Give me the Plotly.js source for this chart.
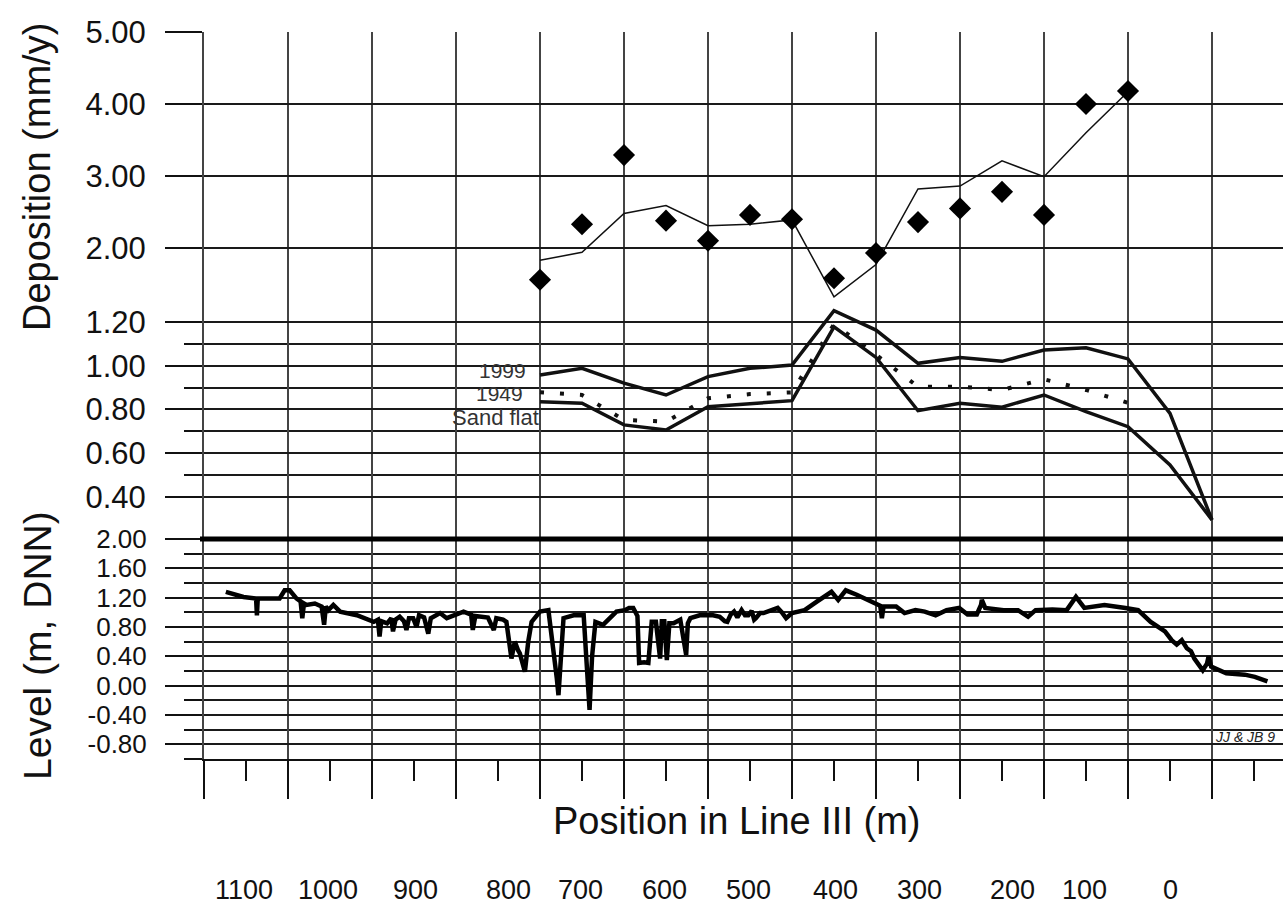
<!DOCTYPE html>
<html>
<head>
<meta charset="utf-8">
<script src="https://cdn.plot.ly/plotly-3.0.1.min.js"></script>
<style>html,body{margin:0;padding:0;background:#fff;}#chart{width:1283px;height:907px;}</style>
</head>
<body>
<div id="chart"></div>
<script>
// ---------- data ----------
const depPositions = [800,750,700,650,600,550,500,450,400,350,300,250,200,150,100];
const depMeasured  = [1.56,2.33,3.29,2.38,2.10,2.46,2.40,1.58,1.93,2.36,2.55,2.78,2.46,4.00,4.18];
const depModel     = [1.83,1.94,2.48,2.59,2.31,2.33,2.39,1.32,1.77,2.82,2.86,3.21,2.99,3.60,4.17];

const levelPositions = [800,750,700,650,600,550,500,450,400,350,300,250,200,150,100,50,0];
const level1999      = [0.957,0.988,0.92,0.866,0.95,0.988,1.003,1.252,1.163,1.011,1.038,1.02,1.072,1.082,1.031,0.782,0.294];
const levelSandFlat  = [0.835,0.828,0.729,0.706,0.812,0.826,0.84,1.178,1.038,0.794,0.828,0.81,0.866,0.79,0.721,0.546,0.294];
const positions1949  = [800,750,700,650,600,550,500,450,400,350,300,250,200,150,100];
const level1949      = [0.878,0.866,0.752,0.744,0.851,0.87,0.878,1.19,1.05,0.904,0.904,0.889,0.938,0.889,0.83];

const profilePos = [1174,1160,1153,1138,1137,1136,1120,1110,1104,1098,1090,1085,1083,1081,1078,1068,1060,1057,1055,1052,1046,1038,1018,998,993,991,989,982,977,975,972,967,962,959,956,951,947,944,938,933,930,927,919,911,903,891,882,880,877,871,862,855,852,844,840,834,830,826,824,818,814,810,800,790,785,780,778,775,772,760,748,745,741,738,734,725,716,709,699,694,689,684,682,676,671,669,667,662,657,655,652,649,646,641,633,626,624,621,610,594,586,580,577,573,569,565,560,556,552,548,545,543,538,534,526,517,512,507,500,485,470,453,445,436,423,406,395,393,391,385,376,366,353,342,329,316,301,291,280,275,274,270,258,248,231,219,210,190,173,162,152,140,128,103,88,73,56,48,45,42,36,30,25,21,11,6,4,1,-17,-39,-51,-66];
const profileLevel = [1.28,1.23,1.21,1.19,0.96,1.19,1.19,1.19,1.30,1.30,1.19,1.15,0.92,1.12,1.10,1.12,1.08,0.83,1.08,1.03,1.10,1.01,0.96,0.87,0.90,0.67,0.88,0.85,0.92,0.74,0.90,0.94,0.88,0.76,0.92,0.92,0.80,0.96,0.93,0.71,0.92,0.94,0.99,0.92,0.96,1.01,0.97,0.76,0.95,0.94,0.93,0.76,0.92,0.90,0.87,0.37,0.60,0.48,0.44,0.19,0.60,0.87,1.01,1.03,0.60,0.10,-0.13,0.50,0.92,0.96,0.96,0.40,-0.33,0.40,0.87,0.83,0.93,1.01,1.03,1.06,1.06,0.95,0.31,0.32,0.31,0.60,0.87,0.87,0.37,0.88,0.88,0.35,0.85,0.85,0.90,0.42,0.85,0.92,0.96,0.96,0.94,0.88,0.87,0.97,1.01,0.93,1.03,0.96,0.96,1.02,0.90,0.92,0.99,0.99,1.03,1.06,1.00,0.92,0.99,1.03,1.15,1.28,1.17,1.30,1.24,1.15,1.09,0.92,1.08,1.08,1.08,0.99,1.03,1.01,0.96,1.03,1.06,0.97,0.97,1.10,1.17,1.06,1.04,1.03,1.03,0.94,1.03,1.04,1.03,1.21,1.06,1.08,1.10,1.06,1.03,0.87,0.74,0.62,0.58,0.56,0.62,0.51,0.47,0.37,0.21,0.30,0.40,0.26,0.17,0.15,0.12,0.06];

const depTicks = [2,3,4,5];
const midTicks = [1.2,1.0,0.8,0.6,0.4];
const midMinor = [1.1,0.9,0.7,0.5];
const lowTicks = [2,1.6,1.2,0.8,0.4,0,-0.4,-0.8];
const lowTickText = ['2.00','1.60','1.20','0.80','0.40','0.00','-0.40','-0.80'];
const lowMinor = [1.8,1.4,1.0,0.6,0.2,-0.2,-0.6,-1.0];

const bottomLabels = ['1100','1000','900','800','700','600','500','400','300','200','100','0'];
const bottomLabelAt = [1152,1052,948,838,752,652,552,448,348,237,152,50];

// ---------- styling ----------
const FONT = 'Liberation Sans, Arial, sans-serif';
const INK = '#111';
const GRID = '#1a1a1a';
const VGRID = '#444';

const traces = [
  {x: depPositions, y: depModel, yaxis: 'y', mode: 'lines', line: {color: INK, width: 1.5}},
  {x: depPositions, y: depMeasured, yaxis: 'y', mode: 'markers', marker: {symbol: 'diamond', size: 17, color: '#000'}},
  {x: levelPositions, y: level1999, yaxis: 'y2', mode: 'lines', line: {color: INK, width: 3.5}},
  {x: positions1949, y: level1949, yaxis: 'y2', mode: 'lines', line: {color: INK, width: 4, dash: '4px,16px'}},
  {x: levelPositions, y: levelSandFlat, yaxis: 'y2', mode: 'lines', line: {color: INK, width: 3.5}},
  {x: profilePos, y: profileLevel, yaxis: 'y3', mode: 'lines', line: {color: '#000', width: 4.5}}
];

const yCommon = {
  anchor: 'x', ticks: 'outside', ticklen: 37, tickwidth: 2, tickcolor: INK,
  showgrid: true, gridcolor: GRID, gridwidth: 2, zeroline: false,
  showline: true, linecolor: VGRID, linewidth: 2,
  ticklabelstandoff: 13, fixedrange: true
};

const annotations = [
  {text: 'Deposition (mm/y)', textangle: -90, xref: 'paper', yref: 'paper', x: (37-204)/1079, y: (759-177)/727,
   xanchor: 'center', yanchor: 'middle', showarrow: false, font: {family: FONT, size: 38, color: '#111'}},
  {text: 'Level (m, DNN)', textangle: -90, xref: 'paper', yref: 'paper', x: (37-204)/1079, y: (759-646)/727,
   xanchor: 'center', yanchor: 'middle', showarrow: false, font: {family: FONT, size: 39, color: '#111'}},
  {text: 'Position in Line III (m)', xref: 'paper', yref: 'paper', x: (736-204)/1079, y: (759-821)/727,
   xanchor: 'center', yanchor: 'middle', showarrow: false, font: {family: FONT, size: 38, color: '#111'}},
  {text: 'JJ & JB 9', xref: 'paper', yref: 'paper', x: (1213-204)/1079, y: (759-737)/727,
   xanchor: 'left', yanchor: 'middle', showarrow: false, font: {family: FONT, size: 14, color: '#222', style: 'italic'}},
  {text: '1999', xref: 'x', yref: 'y2', x: levelPositions[0], y: level1999[0], xanchor: 'right', yanchor: 'middle',
   xshift: -12, yshift: 5, showarrow: false, font: {family: FONT, size: 21, color: '#333'}},
  {text: '1949', xref: 'x', yref: 'y2', x: positions1949[0], y: level1949[0], xanchor: 'right', yanchor: 'middle',
   xshift: -15, yshift: -1, showarrow: false, font: {family: FONT, size: 21, color: '#333'}},
  {text: 'Sand flat', xref: 'x', yref: 'y2', x: levelPositions[0], y: levelSandFlat[0], xanchor: 'right', yanchor: 'middle',
   xshift: 1, yshift: -16, showarrow: false, font: {family: FONT, size: 22, color: '#333'}}
];
bottomLabels.forEach((t, i) => annotations.push({
  text: t, xref: 'x', yref: 'paper', x: bottomLabelAt[i], y: (759-890)/727,
  xanchor: 'center', yanchor: 'middle', showarrow: false, font: {family: FONT, size: 27, color: '#111'}
}));

const layout = {
  width: 1283, height: 907,
  margin: {l: 204, r: 0, t: 32, b: 148, pad: 0},
  paper_bgcolor: '#fff', plot_bgcolor: '#fff',
  showlegend: false,
  font: {family: FONT, color: '#111'},
  xaxis: {
    range: [1200, -84.52], anchor: 'y3', tick0: 0, dtick: 100,
    ticks: 'outside', ticklen: 38, tickwidth: 2, tickcolor: INK,
    showticklabels: false, showgrid: true, gridcolor: VGRID, gridwidth: 2,
    zeroline: false, showline: true, linecolor: INK, linewidth: 2,
    minor: {tick0: 0, dtick: 50, ticks: 'outside', ticklen: 20, tickwidth: 1.5, tickcolor: INK, showgrid: false},
    fixedrange: true
  },
  yaxis: Object.assign({}, yCommon, {
    domain: [(759-320)/727, 1], range: [1, 5], tickmode: 'array', tickvals: depTicks, tickformat: '.2f',
    tickfont: {family: FONT, size: 31, color: '#111'}
  }),
  yaxis2: Object.assign({}, yCommon, {
    domain: [(759-540.5)/727, (759-300.15)/727], range: [0.2, 1.3], tickmode: 'array', tickvals: midTicks, tickformat: '.2f',
    tickfont: {family: FONT, size: 31, color: '#111'},
    minor: {tickmode: 'array', tickvals: midMinor, ticks: 'outside', ticklen: 18, tickwidth: 2, tickcolor: INK,
            showgrid: true, gridcolor: GRID, gridwidth: 2}
  }),
  yaxis3: Object.assign({}, yCommon, {
    domain: [0, (759-539)/727], range: [-1, 2], tickmode: 'array', tickvals: lowTicks, ticktext: lowTickText,
    tickfont: {family: FONT, size: 26, color: '#111'},
    minor: {tickmode: 'array', tickvals: lowMinor, ticks: 'outside', ticklen: 18, tickwidth: 2, tickcolor: INK,
            showgrid: true, gridcolor: GRID, gridwidth: 2}
  }),
  shapes: [
    {type: 'line', xref: 'paper', yref: 'paper', x0: -4/1079, x1: 1, y0: (759-539)/727, y1: (759-539)/727,
     line: {color: '#000', width: 5}, layer: 'above'}
  ],
  annotations: annotations
};

Plotly.newPlot('chart', traces, layout, {displayModeBar: false, staticPlot: true});
</script>
</body>
</html>
